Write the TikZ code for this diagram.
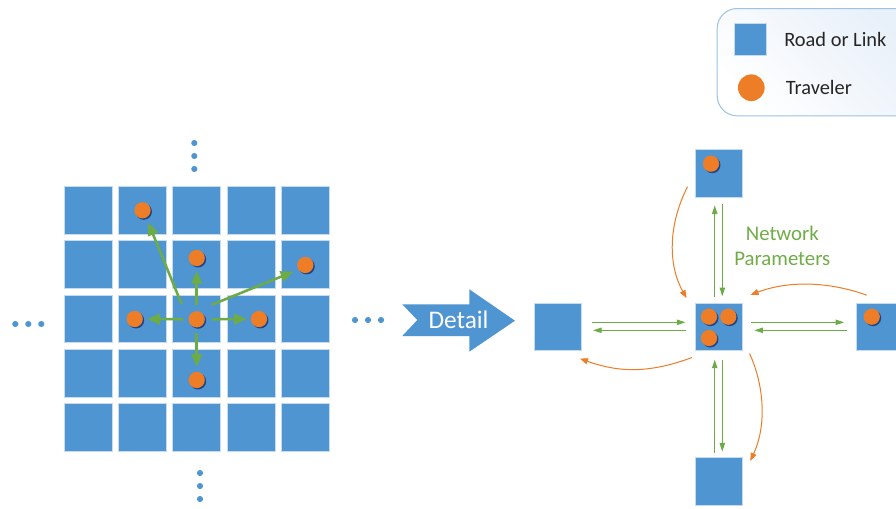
\documentclass[tikz,border=0pt]{standalone}
\usepackage{fontspec}
\setmainfont{Carlito}
\usetikzlibrary{arrows.meta,calc,shadows}
\definecolor{roadblue}{HTML}{4F95D1}
\definecolor{roadglow}{HTML}{C5DCF0}
\definecolor{travorange}{HTML}{ED7D26}
\definecolor{flowgreen}{HTML}{6CAB45}
\definecolor{labelgreen}{HTML}{70AD47}
\definecolor{legendline}{HTML}{9CC2E5}
\definecolor{legendtint}{HTML}{E8F0F9}
\definecolor{inktext}{HTML}{262626}
\tikzset{
  x=0.75pt,y=-0.75pt,
  road/.style={rectangle,fill=roadblue,draw=roadglow,line width=0.5pt,minimum size=35.8pt,inner sep=0pt,outer sep=0pt},
  traveler/.style={circle,fill=travorange,minimum size=12.2pt,inner sep=0pt,outer sep=0pt,
    drop shadow={shadow xshift=1pt,shadow yshift=-1pt,opacity=.55,fill=black!70!blue}},
  moredot/.style={circle,fill=roadblue,minimum size=4.6pt,inner sep=0pt,outer sep=0pt},
  thick green/.style={draw=flowgreen,line width=1.9pt,-{Triangle[length=9.5pt,width=8pt]}},
  thin green/.style={draw=flowgreen,line width=0.75pt,-{Triangle[length=6.5pt,width=4pt]}},
  orange flow/.style={draw=travorange,line width=0.75pt,-{Triangle[length=6pt,width=4.5pt]}},
}
\begin{document}
\begin{tikzpicture}
\path[use as bounding box] (0,0) rectangle (896,508);
\clip (0,0) rectangle (896,508);
\fill[white] (0,0) rectangle (896,508);

% legend
\node[rectangle,draw=legendline,line width=0.75pt,rounded corners=15pt,left color=legendtint,right color=white,shading angle=-45,
  minimum width=150pt,minimum height=80.5pt,anchor=north west,inner sep=0pt] (legend) at (716.7,8) {};
\node[road,minimum size=24pt] (legroad) at (750,39.7) {};
\node[circle,fill=travorange,minimum size=20pt,inner sep=0pt] (legtrav) at (751.3,87.7) {};
\node[anchor=west,inner sep=0pt,font=\fontsize{15.3pt}{18pt}\selectfont,text=inktext] (legroadtext) at (784,39.5) {Road or Link};
\node[anchor=west,inner sep=0pt,font=\fontsize{15.3pt}{18pt}\selectfont,text=inktext] (legtravtext) at (785.7,87.5) {Traveler};

% grid
\foreach \cx [count=\i] in {88.2,142.5,196.5,251,305.3}
  \foreach \cy [count=\j] in {210.3,264.5,318.7,373.3,427.5}
    \node[road] (g\i\j) at (\cx,\cy) {};

\node[traveler] (tNW) at (142.5,210.3) {};
\node[traveler] (tN)  at (196.7,258) {};
\node[traveler] (tNE) at (305.3,265) {};
\node[traveler] (tW)  at (134.7,319) {};
\node[traveler] (tC)  at (196.7,319.3) {};
\node[traveler] (tE)  at (259,319) {};
\node[traveler] (tS)  at (196.7,380) {};

\draw[thick green] ($(tC)+(-15,-15)$) -- ($(tNW)+(5.8,12.4)$);
\draw[thick green] ($(tC)+(0,-14.5)$) -- ($(tN)+(0,13)$);
\draw[thick green] ($(tC)+(15,-14.5)$) -- ($(tNE)+(-12,6.7)$);
\draw[thick green] ($(tC)+(-13.4,0)$) -- ($(tW)+(12.6,0)$);
\draw[thick green] ($(tC)+(15,0)$) -- ($(tE)+(-12.3,0)$);
\draw[thick green] ($(tC)+(0,14)$) -- ($(tS)+(0,-13.3)$);

% ellipsis dots
\foreach \n/\px/\py in {a/194.3/143,b/194.3/156,c/194.3/169,
                        d/200/473,e/200/486,f/200/499,
                        g/15.3/324,h/28.3/324,i/41.3/324,
                        j/355/320,k/368/320,l/381/320}
  \node[moredot] (dot\n) at (\px,\py) {};

% detail arrow
\draw[fill=roadblue,draw=none] (402.3,304.3) -- (469.3,304.3) -- (469.3,289.3) -- (515,320.7)
  -- (469.3,351.7) -- (469.3,336) -- (402.3,336) -- (417.3,320) -- cycle;
\node[text=white,inner sep=0pt,font=\fontsize{19pt}{22pt}\selectfont] (detail) at (458.5,320) {Detail};

% detail view
\node[road] (sT) at (718.7,173.5) {};
\node[road] (sC) at (718.7,326.7) {};
\node[road] (sL) at (557.8,326.7) {};
\node[road] (sR) at (879.8,326.7) {};
\node[road] (sB) at (718.7,481.5) {};

\node[traveler] (uT)  at (711,163.7) {};
\node[traveler] (uC1) at (709,316.7) {};
\node[traveler] (uC2) at (728.3,316.7) {};
\node[traveler] (uC3) at (709,338) {};
\node[traveler] (uR)  at (871.7,316.7) {};

\draw[thin green] ($(sC.north)+(-4,-6)$) -- ($(sT.south)+(-4,8)$);
\draw[thin green] ($(sT.south)+(3.6,7)$) -- ($(sC.north)+(3.6,-6.5)$);
\draw[thin green] ($(sB.north)+(-4,-5)$) -- ($(sC.south)+(-4,9)$);
\draw[thin green] ($(sC.south)+(3.6,9)$) -- ($(sB.north)+(3.6,-6)$);
\draw[thin green] ($(sL.east)+(10.6,-4.4)$) -- ($(sC.west)+(-9.3,-4.4)$);
\draw[thin green] ($(sC.west)+(-9,3.6)$) -- ($(sL.east)+(11.3,3.6)$);
\draw[thin green] ($(sC.east)+(8.7,-4.4)$) -- ($(sR.west)+(-11.7,-4.4)$);
\draw[thin green] ($(sR.west)+(-9,3.6)$) -- ($(sC.east)+(11.7,3.6)$);

\draw[orange flow] ($(sT.west)+(-7.3,13.2)$) .. controls (668,225) and (668,265) .. ($(sC.north west)+(-8.3,-4.7)$);
\draw[orange flow] ($(sR.north west)+(10.7,-7.7)$) .. controls (830,282) and (790,280) .. ($(sC.north east)+(8,-8)$);
\draw[orange flow] ($(sC.south west)+(-3,7)$) .. controls (650,373) and (620,373) .. ($(sL.south east)+(-1.7,8)$);
\draw[orange flow] ($(sC.south east)+(7,3)$) .. controls (764,385) and (767,425) .. ($(sB.north east)+(7.7,3.3)$);

\node[text=labelgreen,align=center,inner sep=0pt,font=\fontsize{15.6pt}{18.5pt}\selectfont] (netparam) at (782.3,246) {Network\\Parameters};
\end{tikzpicture}
\end{document}
